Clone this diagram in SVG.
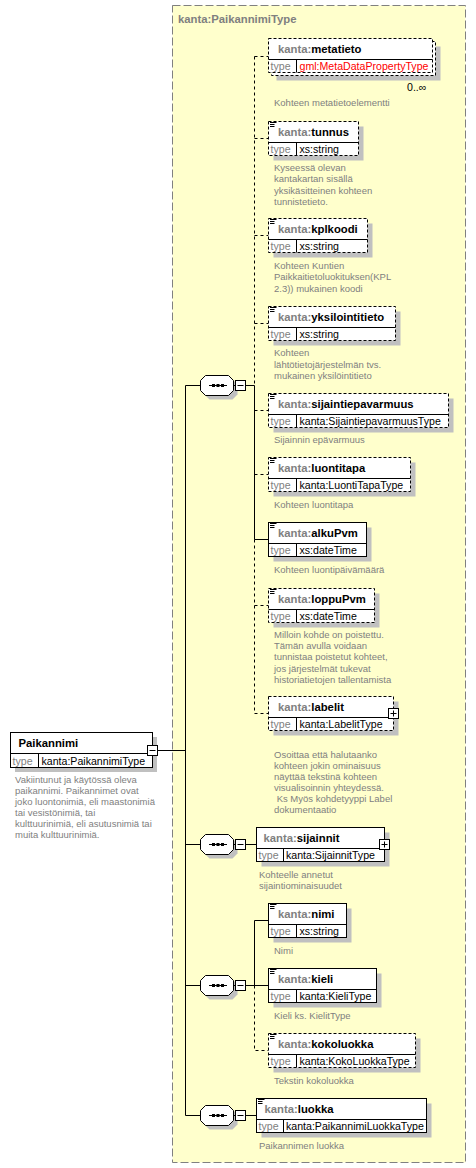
<svg xmlns="http://www.w3.org/2000/svg" width="476" height="1168" viewBox="0 0 476 1168">
<style>
.box{fill:#fff;stroke:#000;stroke-width:1}
.opt{stroke-dasharray:3,2}
.sh{fill:#c0c0c0}
.ln{stroke:#000;stroke-width:1;fill:none}
.dash{stroke-dasharray:3,3}
.h{font-family:"Liberation Sans",Arial,sans-serif;font-size:11.3px;font-weight:bold;fill:#000}
.pre{fill:#808080}
.t{font-family:"Liberation Sans",Arial,sans-serif;font-size:10.6px;fill:#000}
.tl{fill:#808080}
.red{fill:#ff0000}
.d{font-family:"Liberation Sans",Arial,sans-serif;font-size:9.5px;fill:#808080}
.title{font-family:"Liberation Sans",Arial,sans-serif;font-size:11.3px;font-weight:bold;fill:#808080}
.ic{stroke:#000;stroke-width:1;fill:none}
</style>
<defs>
<g id="seq">
<path class="sh" transform="translate(4,4)" d="M5.5,-10 H28.5 L33.5,-5 V5 L28.5,10 H5.5 L0.5,5 V-5 Z"/>
<path class="box" d="M5.5,-10 H28.5 L33.5,-5 V5 L28.5,10 H5.5 L0.5,5 V-5 Z"/>
<path class="ln" d="M9,0 H27"/>
<rect x="12" y="-1.5" width="3" height="3" fill="#000"/>
<rect x="16.5" y="-1.5" width="3" height="3" fill="#000"/>
<rect x="21" y="-1.5" width="3" height="3" fill="#000"/>
<path class="ln" d="M33.5,0 H35.5"/>
<rect class="box" x="35.5" y="-5" width="10" height="10"/>
<path class="ln" d="M37.5,0 H43.5"/>
</g>
<path id="icon" class="ic" d="M1.5,1 H8 M1.5,3 H6 M1.5,5 H6"/>
</defs>

<g id="PaikannimiType">
<rect x="172.5" y="5.5" width="293" height="1157" fill="#ffffcc" stroke="#808080" stroke-dasharray="8,3"/>
<text class="title" x="178" y="23">kanta:PaikannimiType</text>
</g>

<g id="connectors">
<path class="ln" d="M157.5,750.5 H185.5 M185.5,385.5 V1115.5 M185.5,385.5 H200.5 M185.5,844.5 H200.5 M185.5,985.5 H200.5 M185.5,1115.5 H200.5"/>
<path class="ln" d="M245.5,385.5 H254.5 M254.5,385.5 V539.5 M254.5,539.5 H268.5"/>
<path class="ln dash" d="M254.5,56.5 V385.5 M254.5,539.5 V713.5"/>
<path class="ln dash" d="M254.5,56.5 H268.5 M254.5,138.5 H268.5 M254.5,235.5 H268.5 M254.5,323.5 H268.5 M254.5,410.5 H268.5 M254.5,474.5 H268.5 M254.5,605.5 H268.5 M254.5,713.5 H268.5"/>
<path class="ln" d="M245.5,844.5 H256.5"/>
<path class="ln" d="M245.5,985.5 H268.5 M254.5,920.5 V985.5 M254.5,920.5 H268.5"/>
<path class="ln dash" d="M254.5,985.5 V1050.5 H268.5"/>
<path class="ln" d="M245.5,1115.5 H256.5"/>
</g>

<g id="seq1"><use href="#seq" x="200" y="385.5"/></g>
<g id="seq2"><use href="#seq" x="200" y="844.5"/></g>
<g id="seq3"><use href="#seq" x="200" y="985.5"/></g>
<g id="seq4"><use href="#seq" x="200" y="1115.5"/></g>

<g id="Paikannimi">
<rect class="sh" x="15" y="737" width="142" height="35"/>
<rect class="box" x="10.5" y="732.5" width="142" height="35"/>
<path class="ln" d="M10.5,753.5 H152.5 M38.5,753.5 V767.5"/>
<text class="h" x="18.5" y="746.5">Paikannimi</text>
<text class="t tl" x="12.5" y="764.5">type</text>
<text class="t" x="41.5" y="764.5">kanta:PaikannimiType</text>
<rect class="box" x="147.5" y="745.5" width="10" height="10"/>
<path class="ln" d="M149.5,750.5 H155.5"/>
<text class="d" x="15"><tspan x="15" y="782.8">Vakiintunut ja käytössä oleva</tspan><tspan x="15" y="793.9">paikannimi. Paikannimet ovat</tspan><tspan x="15" y="805">joko luontonimiä, eli maastonimiä</tspan><tspan x="15" y="816.1">tai vesistönimiä, tai</tspan><tspan x="15" y="827.2">kulttuurinimiä, eli asutusnimiä tai</tspan><tspan x="15" y="838.3">muita kulttuurinimiä.</tspan></text>
</g>

<g id="metatieto">
<rect class="sh" x="276.5" y="46.5" width="164" height="34"/>
<rect class="box opt" x="271.5" y="41.5" width="164" height="34"/>
<rect class="box opt" x="268.5" y="38.5" width="164" height="34"/>
<path class="ln" d="M268.5,59.5 H432.5 M296.5,59.5 V72.5"/>
<text class="h" x="278" y="52.5"><tspan class="pre">kanta:</tspan>metatieto</text>
<text class="t tl" x="270.5" y="69.5">type</text>
<text class="t red" x="299.5" y="69.5">gml:MetaDataPropertyType</text>
<text class="t" x="407" y="91">0..∞</text>
<text class="d" x="274" y="106">Kohteen metatietoelementti</text>
</g>

<g id="tunnus">
<rect class="sh" x="273.5" y="126.5" width="90" height="34"/>
<rect class="box opt" x="268.5" y="121.5" width="90" height="34"/>
<use href="#icon" x="268.5" y="121.5"/>
<path class="ln" d="M268.5,142.5 H358.5 M296.5,142.5 V155.5"/>
<text class="h" x="278" y="135.5"><tspan class="pre">kanta:</tspan>tunnus</text>
<text class="t tl" x="270.5" y="152.5">type</text>
<text class="t" x="299.5" y="152.5">xs:string</text>
<text class="d"><tspan x="274" y="171">Kyseessä olevan</tspan><tspan x="274" y="182.3">kantakartan sisällä</tspan><tspan x="274" y="193.6">yksikäsitteinen kohteen</tspan><tspan x="274" y="204.9">tunnistetieto.</tspan></text>
</g>

<g id="kplkoodi">
<rect class="sh" x="273.5" y="223.5" width="99" height="34"/>
<rect class="box opt" x="268.5" y="218.5" width="99" height="34"/>
<use href="#icon" x="268.5" y="218.5"/>
<path class="ln" d="M268.5,239.5 H367.5 M296.5,239.5 V252.5"/>
<text class="h" x="278" y="232.5"><tspan class="pre">kanta:</tspan>kplkoodi</text>
<text class="t tl" x="270.5" y="249.5">type</text>
<text class="t" x="299.5" y="249.5">xs:string</text>
<text class="d"><tspan x="274" y="268.5">Kohteen Kuntien</tspan><tspan x="274" y="280">Paikkaitietoluokituksen(KPL</tspan><tspan x="274" y="291.5">2.3)) mukainen koodi</tspan></text>
</g>

<g id="yksilointitieto">
<rect class="sh" x="273.5" y="311.5" width="127" height="34"/>
<rect class="box opt" x="268.5" y="306.5" width="127" height="34"/>
<use href="#icon" x="268.5" y="306.5"/>
<path class="ln" d="M268.5,327.5 H395.5 M296.5,327.5 V340.5"/>
<text class="h" x="278" y="320.5"><tspan class="pre">kanta:</tspan>yksilointitieto</text>
<text class="t tl" x="270.5" y="337.5">type</text>
<text class="t" x="299.5" y="337.5">xs:string</text>
<text class="d"><tspan x="274" y="356.2">Kohteen</tspan><tspan x="274" y="367.5">lähtötietojärjestelmän  tvs.</tspan><tspan x="274" y="379">mukainen yksilöintitieto</tspan></text>
</g>

<g id="sijaintiepavarmuus">
<rect class="sh" x="273.5" y="398.5" width="180" height="34"/>
<rect class="box opt" x="268.5" y="393.5" width="180" height="34"/>
<use href="#icon" x="268.5" y="393.5"/>
<path class="ln" d="M268.5,414.5 H448.5 M296.5,414.5 V427.5"/>
<text class="h" x="278" y="407.5"><tspan class="pre">kanta:</tspan>sijaintiepavarmuus</text>
<text class="t tl" x="270.5" y="424.5">type</text>
<text class="t" x="299.5" y="424.5">kanta:SijaintiepavarmuusType</text>
<text class="d" x="274" y="442.8">Sijainnin epävarmuus</text>
</g>

<g id="luontitapa">
<rect class="sh" x="273.5" y="462.5" width="142" height="34"/>
<rect class="box opt" x="268.5" y="457.5" width="142" height="34"/>
<use href="#icon" x="268.5" y="457.5"/>
<path class="ln" d="M268.5,478.5 H410.5 M296.5,478.5 V491.5"/>
<text class="h" x="278" y="471.5"><tspan class="pre">kanta:</tspan>luontitapa</text>
<text class="t tl" x="270.5" y="488.5">type</text>
<text class="t" x="299.5" y="488.5">kanta:LuontiTapaType</text>
<text class="d" x="274" y="507.8">Kohteen luontitapa</text>
</g>

<g id="alkuPvm">
<rect class="sh" x="273.5" y="527.5" width="98" height="34"/>
<rect class="box" x="268.5" y="522.5" width="98" height="34"/>
<use href="#icon" x="268.5" y="522.5"/>
<path class="ln" d="M268.5,543.5 H366.5 M296.5,543.5 V556.5"/>
<text class="h" x="278" y="536.5"><tspan class="pre">kanta:</tspan>alkuPvm</text>
<text class="t tl" x="270.5" y="553.5">type</text>
<text class="t" x="299.5" y="553.5">xs:dateTime</text>
<text class="d" x="274" y="572.8">Kohteen luontipäivämäärä</text>
</g>

<g id="loppuPvm">
<rect class="sh" x="273.5" y="593.5" width="106" height="34"/>
<rect class="box opt" x="268.5" y="588.5" width="106" height="34"/>
<use href="#icon" x="268.5" y="588.5"/>
<path class="ln" d="M268.5,609.5 H374.5 M296.5,609.5 V622.5"/>
<text class="h" x="278" y="602.5"><tspan class="pre">kanta:</tspan>loppuPvm</text>
<text class="t tl" x="270.5" y="619.5">type</text>
<text class="t" x="299.5" y="619.5">xs:dateTime</text>
<text class="d"><tspan x="274" y="637.8">Milloin kohde on poistettu.</tspan><tspan x="274" y="649.1">Tämän avulla voidaan</tspan><tspan x="274" y="660.4">tunnistaa poistetut kohteet,</tspan><tspan x="274" y="671.7">jos järjestelmät tukevat</tspan><tspan x="274" y="683">historiatietojen tallentamista</tspan></text>
</g>

<g id="labelit">
<rect class="sh" x="273.5" y="701.5" width="125" height="34"/>
<rect class="box opt" x="268.5" y="696.5" width="125" height="34"/>
<path class="ln" d="M268.5,717.5 H393.5 M296.5,717.5 V730.5"/>
<text class="h" x="278" y="710.5"><tspan class="pre">kanta:</tspan>labelit</text>
<text class="t tl" x="270.5" y="727.5">type</text>
<text class="t" x="299.5" y="727.5">kanta:LabelitType</text>
<rect class="box" x="388.5" y="708.5" width="10" height="10"/>
<path class="ln" d="M390.5,713.5 H396.5 M393.5,710.5 V716.5"/>
<text class="d"><tspan x="274" y="757.8">Osoittaa että halutaanko</tspan><tspan x="274" y="768.9">kohteen jokin ominaisuus</tspan><tspan x="274" y="780">näyttää tekstinä kohteen</tspan><tspan x="274" y="791.1">visualisoinnin yhteydessä.</tspan><tspan x="274" y="802.2"> Ks Myös kohdetyyppi Label</tspan><tspan x="274" y="813.3">dokumentaatio</tspan></text>
</g>

<g id="sijainnit">
<rect class="sh" x="261.5" y="832.5" width="128" height="34"/>
<rect class="box" x="256.5" y="827.5" width="128" height="34"/>
<path class="ln" d="M256.5,848.5 H384.5 M283.5,848.5 V861.5"/>
<text class="h" x="263.5" y="841.5"><tspan class="pre">kanta:</tspan>sijainnit</text>
<text class="t tl" x="258.5" y="858.5">type</text>
<text class="t" x="286" y="858.5">kanta:SijainnitType</text>
<rect class="box" x="379.5" y="839.5" width="10" height="10"/>
<path class="ln" d="M381.5,844.5 H387.5 M384.5,841.5 V847.5"/>
<text class="d"><tspan x="259" y="877.8">Kohteelle annetut</tspan><tspan x="259" y="889.3">sijaintiominaisuudet</tspan></text>
</g>

<g id="nimi">
<rect class="sh" x="273.5" y="908.5" width="78" height="34"/>
<rect class="box" x="268.5" y="903.5" width="78" height="34"/>
<use href="#icon" x="268.5" y="903.5"/>
<path class="ln" d="M268.5,924.5 H346.5 M296.5,924.5 V937.5"/>
<text class="h" x="278" y="917.5"><tspan class="pre">kanta:</tspan>nimi</text>
<text class="t tl" x="270.5" y="934.5">type</text>
<text class="t" x="299.5" y="934.5">xs:string</text>
<text class="d" x="274" y="954.2">Nimi</text>
</g>

<g id="kieli">
<rect class="sh" x="273.5" y="973.5" width="108" height="34"/>
<rect class="box" x="268.5" y="968.5" width="108" height="34"/>
<use href="#icon" x="268.5" y="968.5"/>
<path class="ln" d="M268.5,989.5 H376.5 M296.5,989.5 V1002.5"/>
<text class="h" x="278" y="982.5"><tspan class="pre">kanta:</tspan>kieli</text>
<text class="t tl" x="270.5" y="999.5">type</text>
<text class="t" x="299.5" y="999.5">kanta:KieliType</text>
<text class="d" x="274" y="1019.2">Kieli ks. KielitType</text>
</g>

<g id="kokoluokka">
<rect class="sh" x="273.5" y="1038.5" width="147" height="34"/>
<rect class="box opt" x="268.5" y="1033.5" width="147" height="34"/>
<use href="#icon" x="268.5" y="1033.5"/>
<path class="ln" d="M268.5,1054.5 H415.5 M296.5,1054.5 V1067.5"/>
<text class="h" x="278" y="1047.5"><tspan class="pre">kanta:</tspan>kokoluokka</text>
<text class="t tl" x="270.5" y="1064.5">type</text>
<text class="t" x="299.5" y="1064.5">kanta:KokoLuokkaType</text>
<text class="d" x="274" y="1084.2">Tekstin kokoluokka</text>
</g>

<g id="luokka">
<rect class="sh" x="261.5" y="1103.5" width="170" height="34"/>
<rect class="box" x="256.5" y="1098.5" width="170" height="34"/>
<use href="#icon" x="256.5" y="1098.5"/>
<path class="ln" d="M256.5,1119.5 H426.5 M283.5,1119.5 V1132.5"/>
<text class="h" x="264.5" y="1112.5"><tspan class="pre">kanta:</tspan>luokka</text>
<text class="t tl" x="258.5" y="1129.5">type</text>
<text class="t" x="286" y="1129.5">kanta:PaikannimiLuokkaType</text>
<text class="d" x="259" y="1149.2">Paikannimen luokka</text>
</g>
</svg>
